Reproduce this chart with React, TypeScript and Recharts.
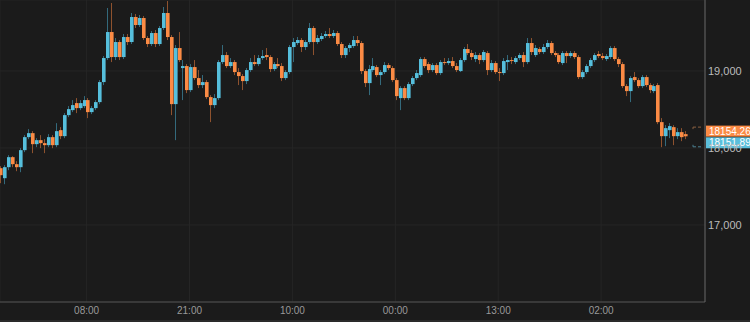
import { ComposedChart, Bar, XAxis, YAxis, CartesianGrid, ReferenceLine } from 'recharts'

// half-hour candles
const opens = [
  17738, 17608, 17751, 17881, 17790, 17751, 17972, 18141, 18193, 18050,
  18102, 18063, 18037, 18141, 18037, 18232, 18154, 18427, 18492, 18583,
  18518, 18544, 18622, 18466, 18518, 18596, 18856, 19168, 19506, 19181,
  19376, 19181, 19441, 19376, 19701, 19597, 19688, 19428, 19350, 19493,
  19350, 19558, 19753, 19441, 18570, 19298, 19038, 19064, 18752, 19051,
  18908, 18817, 18856, 18661, 18557, 18648, 19116, 19207, 19064, 19116,
  18986, 18934, 18869, 19012, 19116, 19090, 19168, 19207, 19181, 19025,
  19090, 19064, 18908, 18986, 19311, 19363, 19402, 19311, 19376, 19558,
  19376, 19415, 19454, 19480, 19454, 19493, 19350, 19207, 19298, 19324,
  19402, 19363, 18999, 18843, 19012, 19051, 18947, 18986, 19077, 19038,
  18882, 18648, 18778, 18648, 18830, 18908, 18947, 19155, 19090, 19012,
  19077, 18973, 19116, 19103, 19129, 19064, 18999, 19142, 19285, 19233,
  19155, 19207, 19142, 19233, 19012, 19103, 18986, 18973, 19116, 19142,
  19116, 19168, 19207, 19116, 19363, 19207, 19285, 19246, 19311, 19363,
  19233, 19207, 19103, 19233, 19194, 19233, 19181, 18921, 18986, 19064,
  19142, 19220, 19194, 19155, 19181, 19298, 19155, 19090, 18804, 18739,
  18921, 18882, 18804, 18921, 18817, 18739, 18817, 18336, 18154, 18232,
  18271, 18154, 18206, 18180,
]

const highs = [
  17764, 17777, 17907, 17894, 17829, 17998, 18167, 18245, 18219, 18128,
  18167, 18115, 18180, 18167, 18323, 18271, 18453, 18544, 18622, 18648,
  18622, 18674, 18648, 18544, 18622, 18882, 19194, 19818, 19883, 19428,
  19402, 19480, 19480, 19753, 19740, 19727, 19714, 19454, 19519, 19532,
  19584, 19831, 19909, 19467, 19337, 19506, 19142, 19090, 19090, 19142,
  19012, 18947, 18882, 18687, 18700, 19142, 19337, 19246, 19168, 19142,
  19038, 18960, 19038, 19168, 19207, 19207, 19272, 19298, 19207, 19116,
  19168, 19103, 19012, 19337, 19428, 19441, 19428, 19402, 19623, 19584,
  19467, 19493, 19519, 19558, 19532, 19519, 19376, 19324, 19363, 19454,
  19454, 19389, 19025, 19077, 19168, 19077, 19012, 19116, 19103, 19064,
  18908, 18804, 18804, 18856, 18934, 19012, 19181, 19181, 19116, 19103,
  19103, 19142, 19168, 19168, 19181, 19103, 19168, 19311, 19350, 19272,
  19246, 19233, 19272, 19259, 19142, 19129, 19038, 19168, 19207, 19181,
  19194, 19233, 19246, 19428, 19428, 19337, 19311, 19350, 19402, 19389,
  19259, 19233, 19259, 19259, 19259, 19259, 19207, 19012, 19090, 19168,
  19233, 19259, 19233, 19220, 19324, 19324, 19181, 19116, 18830, 18934,
  18986, 18908, 18947, 18947, 18843, 18830, 18843, 18388, 18297, 18323,
  18297, 18258, 18258, 18219,
]

const lows = [
  17543, 17530, 17712, 17751, 17699, 17686, 17946, 18115, 17933, 18011,
  17998, 17933, 18011, 17998, 18011, 18115, 18128, 18401, 18466, 18453,
  18492, 18518, 18388, 18440, 18492, 18570, 18817, 19142, 19116, 19142,
  19142, 19155, 19337, 19350, 19558, 19571, 19402, 19311, 19324, 19311,
  19324, 19532, 19402, 18427, 18102, 19116, 18622, 18713, 18726, 18882,
  18778, 18778, 18635, 18336, 18518, 18622, 19090, 19038, 19038, 18947,
  18817, 18752, 18830, 18986, 19064, 19064, 19142, 19142, 18986, 18999,
  19038, 18869, 18882, 18960, 19116, 19337, 19246, 19272, 19350, 19207,
  19350, 19389, 19428, 19428, 19428, 19324, 19168, 19168, 19246, 19298,
  19324, 18960, 18791, 18687, 18986, 18921, 18817, 18960, 19012, 18856,
  18622, 18492, 18622, 18622, 18804, 18882, 18921, 19038, 18973, 18986,
  18947, 18947, 19077, 19077, 19038, 18986, 18986, 19116, 19207, 19142,
  19116, 19090, 19116, 18947, 18986, 18960, 18869, 18947, 19012, 19090,
  19090, 19142, 19051, 19090, 19207, 19181, 19220, 19220, 19285, 19207,
  19181, 19090, 19077, 19103, 19168, 19155, 18895, 18895, 18960, 19038,
  19116, 19168, 19142, 19129, 19155, 19129, 19051, 18778, 18674, 18596,
  18856, 18778, 18778, 18791, 18713, 18713, 18310, 18011, 18024, 18128,
  18037, 18115, 18089, 18115,
]

const closes = [
  17647, 17751, 17881, 17790, 17751, 17972, 18141, 18193, 18050, 18102,
  18063, 18037, 18141, 18037, 18219, 18154, 18427, 18505, 18557, 18518,
  18583, 18622, 18466, 18518, 18596, 18856, 19168, 19506, 19181, 19376,
  19181, 19441, 19376, 19701, 19597, 19688, 19428, 19350, 19493, 19350,
  19558, 19753, 19441, 18570, 19298, 19142, 19064, 18752, 19051, 18908,
  18817, 18856, 18661, 18557, 18648, 19116, 19207, 19064, 19116, 18986,
  18934, 18869, 19012, 19116, 19090, 19168, 19194, 19181, 19025, 19090,
  19064, 18908, 18986, 19311, 19376, 19402, 19311, 19376, 19558, 19376,
  19428, 19454, 19480, 19454, 19493, 19350, 19207, 19298, 19337, 19402,
  19363, 18999, 18843, 19025, 19064, 18947, 18986, 19077, 19038, 18882,
  18674, 18778, 18648, 18830, 18908, 18973, 19155, 19064, 19012, 19077,
  18973, 19116, 19103, 19129, 19064, 19012, 19142, 19285, 19233, 19181,
  19207, 19142, 19246, 19012, 19103, 18986, 18973, 19129, 19142, 19129,
  19168, 19207, 19116, 19363, 19246, 19298, 19246, 19311, 19363, 19233,
  19207, 19116, 19233, 19194, 19233, 19181, 18921, 18986, 19064, 19142,
  19207, 19194, 19168, 19194, 19298, 19155, 19090, 18804, 18739, 18908,
  18882, 18804, 18921, 18817, 18752, 18804, 18336, 18154, 18258, 18284,
  18154, 18206, 18141, 18151.89,
]

const tickTimes = [0, 26, 52, 78, 104, 130]
const tickLabels = ['08:00', '21:00', '10:00', '00:00', '13:00', '02:00']
const priceTicks = [17000, 18000, 19000]

const askPrice = 18154.26
const bidPrice = 18151.89

const UP = '#56bfdc'
const DOWN = '#fb8b45'
const UP_WICK = 'rgba(70, 160, 190, 0.6)'
const DOWN_WICK = 'rgba(220, 120, 60, 0.6)'
const FONT = "'Liberation Sans', Arial, sans-serif"

const data = closes.map((c, i) => ({
  t: i - 21.5,
  open: opens[i],
  high: highs[i],
  low: lows[i],
  close: c,
}))

const Candle = (props: any) => {
  const { x, y, width, height, payload } = props
  if (!payload) return null
  const { open, close, high, low } = payload
  const up = close >= open
  const left = Math.round(x + width / 2) - 2
  const h = Math.abs(height)
  const top = Math.min(y, y + height)
  const k = h / (high - low || 1)
  const bodyTop = top + (high - Math.max(open, close)) * k
  const bodyH = Math.max(1, Math.abs(open - close) * k)
  return (
    <g>
      <line x1={left + 1.5} x2={left + 1.5} y1={top} y2={top + h} stroke={up ? UP_WICK : DOWN_WICK} strokeWidth={1} />
      <rect x={left} y={bodyTop} width={3.6} height={bodyH} fill={up ? UP : DOWN} />
    </g>
  )
}

const PriceTag = ({ viewBox, color, text, shift, dashColor, side }: any) => {
  if (!viewBox) return null
  const right = viewBox.x + viewBox.width
  const cy = viewBox.y + shift
  const edgeY = side === 'top' ? cy - 4 : cy + 4
  return (
    <g>
      <line x1={right - 12} x2={right - 2} y1={edgeY} y2={edgeY} stroke={dashColor} strokeDasharray="3 2" />
      <line x1={right - 12} x2={right - 12} y1={edgeY} y2={cy} stroke={dashColor} strokeDasharray="2 2" />
      <rect x={right + 1} y={cy - 5.5} width={44} height={11} fill={color} />
      <text x={right + 4} y={cy + 3.6} fill="#fff" fontSize={10} fontFamily={FONT}>
        {text}
      </text>
    </g>
  )
}

export default function App() {
  return (
    <div style={{ position: 'absolute', left: 0, top: 0, width: 750, height: 322, background: '#1b1b1b' }}>
      <ComposedChart
        width={750}
        height={322}
        data={data}
        margin={{ top: 0, right: 0, bottom: 0, left: 0 }}
        style={{ fontFamily: FONT }}
      >
        <CartesianGrid stroke="#252525" strokeWidth={1} />
        <XAxis
          dataKey="t"
          type="number"
          domain={[-21.88, 156.24]}
          allowDataOverflow
          ticks={tickTimes}
          tickFormatter={(v) => tickLabels[tickTimes.indexOf(v)] ?? ''}
          height={20}
          tickSize={0}
          tickMargin={5}
          axisLine={{ stroke: '#555' }}
          tick={{ fill: '#999', fontSize: 10 }}
        />
        <YAxis
          orientation="right"
          domain={[16000, 19922]}
          allowDataOverflow
          ticks={priceTicks}
          tickFormatter={(v) => Number(v).toLocaleString('en-US')}
          width={45}
          tickSize={0}
          tickMargin={3}
          axisLine={{ stroke: '#666' }}
          tick={{ fill: '#bbb', fontSize: 11, textAnchor: 'start' }}
        />
        <Bar
          dataKey={(d: any) => [d.low, d.high]}
          shape={<Candle />}
          isAnimationActive={false}
        />
        <ReferenceLine
          y={bidPrice}
          stroke="none"
          label={<PriceTag color="#5bbfdb" text={bidPrice.toFixed(2)} shift={6.5} dashColor="#4a7f90" side="bottom" />}
        />
        <ReferenceLine
          y={askPrice}
          stroke="none"
          label={<PriceTag color="#fb8b45" text={askPrice.toFixed(2)} shift={-5} dashColor="#8a6040" side="top" />}
        />
      </ComposedChart>
      <div style={{ position: 'absolute', left: 0, bottom: 0, width: 750, height: 2, background: '#2a2a2a' }} />
    </div>
  )
}
